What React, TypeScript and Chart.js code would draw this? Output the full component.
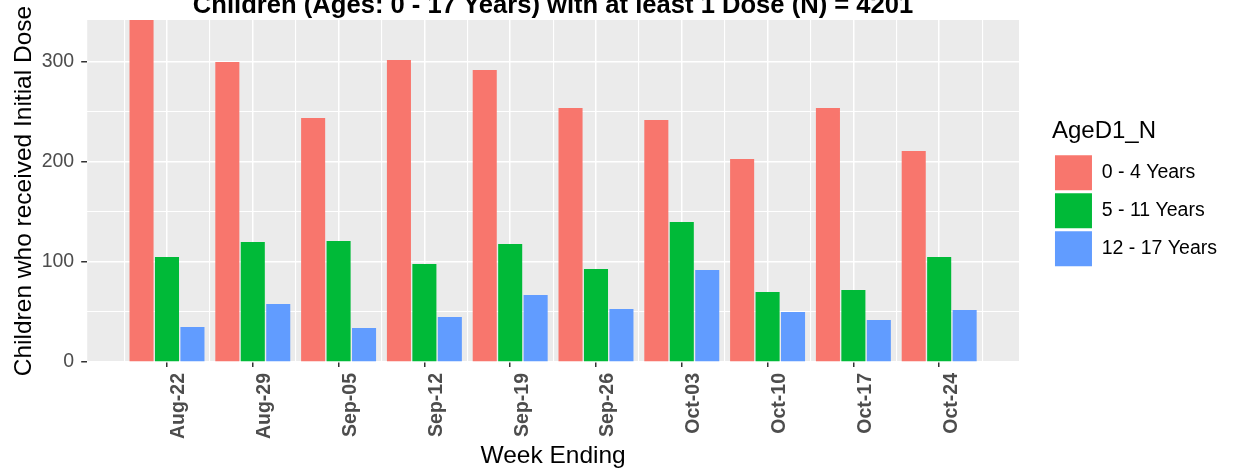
import React, { useEffect, useRef } from 'react';
import { Chart, registerables } from 'chart.js';

Chart.register(...registerables);

// ---- data ----
const weeks = ['Aug-22', 'Aug-29', 'Sep-05', 'Sep-12', 'Sep-19', 'Sep-26', 'Oct-03', 'Oct-10', 'Oct-17', 'Oct-24'];
const seriesNames = ['0 - 4 Years', '5 - 11 Years', '12 - 17 Years'];
const age0to4 = [345, 300, 244, 302, 292, 254, 242, 203, 254, 211];
const age5to11 = [105, 120, 121, 98, 118, 93, 140, 70, 72, 105];
const age12to17 = [35, 58, 34, 45, 67, 53, 92, 50, 42, 52];
const seriesColors = ['#F8766D', '#00BA38', '#619CFF'];
const yMajorTicks = [0, 100, 200, 300];
const yMinorTicks = [50, 150, 250];
const yMax = 342;
const chartTitle = 'Children (Ages: 0 - 17 Years) with at least 1 Dose (N) = 4201';
const xTitle = 'Week Ending';
const yTitle = 'Children who received Initial Dose';
const legendTitle = 'AgeD1_N';

const FONT = "'Liberation Sans', Arial, Helvetica, sans-serif";
const SHIFT = 20; // title is partly cut off at the top of the reference

export default function App() {
  const ref = useRef<HTMLCanvasElement | null>(null);

  useEffect(() => {
    if (!ref.current) return;
    const series = [age0to4, age5to11, age12to17];
    const xMin = -0.93;
    const xMax = weeks.length - 1 + 0.93;
    const xMinorValues = weeks.map((_, i) => i - 0.5).concat([weeks.length - 0.5]);
    const yAllTicks = [...yMajorTicks, ...yMinorTicks].sort((a, b) => a - b);

    const panelBg = {
      id: 'panelBg',
      beforeDraw(chart: any) {
        const { ctx, chartArea: a } = chart;
        ctx.save();
        ctx.fillStyle = '#EBEBEB';
        ctx.fillRect(a.left, a.top, a.right - a.left, a.bottom - a.top);
        ctx.restore();
      },
    };

    const chart = new Chart(ref.current, {
      type: 'bar',
      data: {
        datasets: series.map((vals, k) => ({
          label: seriesNames[k],
          data: vals.map((v, i) => ({ x: i, y: v })),
          backgroundColor: seriesColors[k],
          borderWidth: 0,
          categoryPercentage: 0.89,
          barPercentage: 0.945,
          xAxisID: 'x',
          yAxisID: 'y',
        })),
      },
      options: {
        responsive: false,
        animation: false,
        devicePixelRatio: 1,
        layout: { padding: { left: 10, right: 9, top: 0, bottom: 0 } },
        plugins: {
          tooltip: { enabled: false },
          title: {
            display: true,
            text: chartTitle,
            fullSize: false,
            color: '#000000',
            font: { family: FONT, size: 25.6, weight: 'bold' },
            padding: { top: 10.1, bottom: -0.8 },
          },
          legend: {
            position: 'right',
            align: 'center',
            fullSize: false,
            title: {
              display: true,
              text: legendTitle,
              position: 'start',
              color: '#000000',
              font: { family: FONT, size: 24 },
              padding: { top: 7, bottom: 3.6 },
            },
            labels: {
              boxWidth: 37,
              boxHeight: 35,
              padding: 3,
              color: '#000000',
              font: { family: FONT, size: 19.5 },
            },
          },
        },
        scales: {
          x: {
            type: 'linear',
            position: 'bottom',
            offset: false,
            min: xMin,
            max: xMax,
            afterBuildTicks: (s: any) => {
              s.ticks = weeks.map((_, i) => ({ value: i }));
            },
            afterFit: (s: any) => {
              s.height = 112;
            },
            ticks: {
              autoSkip: false,
              minRotation: 90,
              maxRotation: 90,
              padding: 6,
              labelOffset: 12,
              color: '#4D4D4D',
              font: { family: FONT, size: 19.5, weight: 'bold' },
              callback: (v: any) => weeks[v] ?? '',
            },
            grid: {
              offset: false,
              color: '#FFFFFF',
              lineWidth: 1.5,
              drawTicks: true,
              tickLength: 5,
              tickColor: '#333333',
              tickWidth: 1.5,
            },
            border: { display: false },
            title: {
              display: true,
              text: xTitle,
              color: '#000000',
              font: { family: FONT, size: 24.5 },
              padding: { top: 0, bottom: 3.5 },
            },
          },
          xMinor: {
            type: 'linear',
            position: 'bottom',
            offset: false,
            min: xMin,
            max: xMax,
            afterBuildTicks: (s: any) => {
              s.ticks = xMinorValues.map((v) => ({ value: v }));
            },
            ticks: { display: false },
            grid: { offset: false, color: '#FFFFFF', lineWidth: 1.1, drawTicks: false },
            border: { display: false },
            afterFit: (s: any) => {
              s.height = 0;
            },
          },
          y: {
            type: 'linear',
            position: 'left',
            min: 0,
            max: yMax,
            afterBuildTicks: (s: any) => {
              s.ticks = yAllTicks.map((v) => ({ value: v }));
            },
            afterFit: (s: any) => {
              s.width = 77.2;
            },
            ticks: {
              padding: 7,
              color: '#4D4D4D',
              font: { family: FONT, size: 19.5 },
              callback: (v: any) => (yMajorTicks.includes(v) ? String(v) : ''),
            },
            grid: {
              color: '#FFFFFF',
              lineWidth: (c: any) => (yMajorTicks.includes(c.tick?.value) ? 1.5 : 1.1),
              drawTicks: true,
              tickLength: 6,
              tickColor: (c: any) => (yMajorTicks.includes(c.tick?.value) ? '#333333' : 'rgba(0,0,0,0)'),
              tickWidth: 1.5,
            },
            border: { display: false },
            title: {
              display: true,
              text: yTitle,
              color: '#000000',
              font: { family: FONT, size: 24.5 },
              padding: { top: 0, bottom: 0 },
            },
          },
          spacer: {
            type: 'linear',
            position: 'right',
            grid: { display: false, drawTicks: false },
            ticks: { display: false },
            border: { display: false },
            afterFit: (s: any) => {
              s.width = 33;
            },
          },
        },
      } as any,
      plugins: [panelBg],
    });

    return () => chart.destroy();
  }, []);

  return (
    <div style={{ position: 'absolute', left: 0, top: -SHIFT, width: 1236, height: 474 + SHIFT }}>
      <canvas ref={ref} width={1236} height={474 + SHIFT} style={{ display: 'block', width: 1236, height: 474 + SHIFT }} />
    </div>
  );
}
